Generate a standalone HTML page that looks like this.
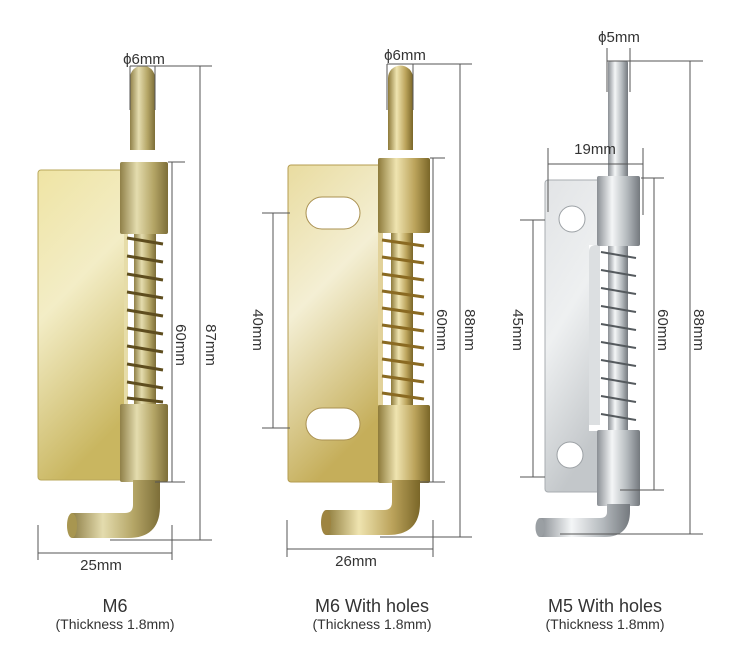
<!DOCTYPE html>
<html><head><meta charset="utf-8"><style>
html,body{margin:0;padding:0;background:#fff;}
svg{display:block;}
text{font-family:"Liberation Sans",sans-serif;fill:#333;}
</style></head><body>
<svg width="750" height="668" viewBox="0 0 750 668" xmlns="http://www.w3.org/2000/svg">
<defs>
<linearGradient id="plate1" x1="0" y1="0" x2="0.3" y2="1">
<stop offset="0" stop-color="#efe4a4"/><stop offset="0.45" stop-color="#f3edc6"/><stop offset="1" stop-color="#c9b660"/></linearGradient>
<linearGradient id="brass1" x1="0" y1="0" x2="1" y2="0">
<stop offset="0" stop-color="#8f8048"/><stop offset="0.35" stop-color="#e4dcae"/><stop offset="0.7" stop-color="#b4a566"/><stop offset="1" stop-color="#7d6e38"/></linearGradient>
<linearGradient id="plate2" x1="0" y1="0" x2="0.3" y2="1">
<stop offset="0" stop-color="#e9dca0"/><stop offset="0.45" stop-color="#f4efd4"/><stop offset="1" stop-color="#c5ae5a"/></linearGradient>
<linearGradient id="brass2" x1="0" y1="0" x2="1" y2="0">
<stop offset="0" stop-color="#8d7a3a"/><stop offset="0.35" stop-color="#efe4b0"/><stop offset="0.7" stop-color="#bca45c"/><stop offset="1" stop-color="#7a6628"/></linearGradient>
<linearGradient id="plate3" x1="0" y1="0" x2="0.3" y2="1">
<stop offset="0" stop-color="#e2e4e6"/><stop offset="0.5" stop-color="#eef0f1"/><stop offset="1" stop-color="#c3c7ca"/></linearGradient>
<linearGradient id="steel" x1="0" y1="0" x2="1" y2="0">
<stop offset="0" stop-color="#8a8f94"/><stop offset="0.35" stop-color="#f4f6f7"/><stop offset="0.7" stop-color="#b4b9bd"/><stop offset="1" stop-color="#74797e"/></linearGradient>
</defs>

<!-- ===== Hinge 1 ===== -->
<rect x="38" y="170" width="90" height="310" rx="3" fill="url(#plate1)" stroke="#b9a75a" stroke-width="1"/>
<rect x="124" y="232" width="44" height="172" fill="#fff"/>
<path d="M124 232 H128 V404 H124Z" fill="#e6dca8"/>
<rect x="134" y="225" width="22" height="185" fill="url(#brass1)"/>
<g stroke="#5e4d1e" stroke-width="3" fill="none">
<path d="M127 238 L163 244 M127 256 L163 262 M127 274 L163 280 M127 292 L163 298 M127 310 L163 316 M127 328 L163 334 M127 346 L163 352 M127 364 L163 370 M127 382 L163 388 M127 398 L163 402"/>
</g>
<path d="M130 150 V78 A12.5 12.5 0 0 1 155 78 V150Z" fill="url(#brass1)"/>
<rect x="120" y="162" width="48" height="72" rx="2" fill="url(#brass1)"/>
<rect x="120" y="404" width="48" height="78" rx="2" fill="url(#brass1)"/>
<path d="M133 480 V505 Q133 513 125 513 H72 V538 H128 Q160 538 160 506 V480Z" fill="url(#brass1)"/>
<ellipse cx="72" cy="525.5" rx="5" ry="12.5" fill="#a89650"/>

<!-- dims 1 -->
<g stroke="#555" stroke-width="1" fill="none">
<line x1="130" y1="66" x2="130" y2="110"/><line x1="155" y1="66" x2="155" y2="110"/>
<line x1="130" y1="66" x2="212" y2="66"/>
<line x1="200" y1="66" x2="200" y2="540"/><line x1="110" y1="540" x2="212" y2="540"/>
<line x1="168" y1="162" x2="185" y2="162"/><line x1="172" y1="162" x2="172" y2="482"/><line x1="155" y1="482" x2="185" y2="482"/>
<line x1="38" y1="525" x2="38" y2="560"/><line x1="172" y1="525" x2="172" y2="560"/><line x1="38" y1="553" x2="172" y2="553"/>
</g>
<text x="144" y="64" font-size="15" text-anchor="middle">ϕ6mm</text>
<text x="101" y="570" font-size="15" text-anchor="middle">25mm</text>
<text transform="translate(176,345) rotate(90)" font-size="15" text-anchor="middle">60mm</text>
<text transform="translate(206,345) rotate(90)" font-size="15" text-anchor="middle">87mm</text>

<!-- ===== Hinge 2 ===== -->
<rect x="288" y="165" width="94" height="317" rx="3" fill="url(#plate2)" stroke="#b49c50" stroke-width="1"/>
<rect x="306" y="197" width="54" height="32" rx="16" fill="#fff" stroke="#a99050"/>
<rect x="306" y="408" width="54" height="32" rx="16" fill="#fff" stroke="#a99050"/>
<rect x="378" y="232" width="52" height="173" fill="#fff"/>
<path d="M378 232 H383 V405 H378Z" fill="#e2d29a"/>
<rect x="391" y="225" width="22" height="185" fill="url(#brass2)"/>
<g stroke="#8a6a22" stroke-width="3" fill="none">
<path d="M382 240 L424 246 M382 257 L424 263 M382 274 L424 280 M382 291 L424 297 M382 308 L424 314 M382 325 L424 331 M382 342 L424 348 M382 359 L424 365 M382 376 L424 382 M382 393 L424 399"/>
</g>
<path d="M388 150 V78 A12.5 12.5 0 0 1 413 78 V150Z" fill="url(#brass2)"/>
<rect x="378" y="158" width="52" height="75" rx="2" fill="url(#brass2)"/>
<rect x="378" y="405" width="52" height="78" rx="2" fill="url(#brass2)"/>
<path d="M392 480 V502 Q392 510 384 510 H326 V535 H388 Q420 535 420 503 V480Z" fill="url(#brass2)"/>
<ellipse cx="326" cy="522.5" rx="5" ry="12.5" fill="#9e8440"/>

<g stroke="#555" stroke-width="1" fill="none">
<line x1="387" y1="64" x2="387" y2="110"/><line x1="413" y1="64" x2="413" y2="110"/>
<line x1="387" y1="64" x2="472" y2="64"/>
<line x1="460" y1="64" x2="460" y2="537"/><line x1="380" y1="537" x2="472" y2="537"/>
<line x1="430" y1="158" x2="445" y2="158"/><line x1="433" y1="158" x2="433" y2="482"/><line x1="420" y1="482" x2="445" y2="482"/>
<line x1="262" y1="213" x2="290" y2="213"/><line x1="273" y1="213" x2="273" y2="428"/><line x1="262" y1="428" x2="290" y2="428"/>
<line x1="287" y1="520" x2="287" y2="557"/><line x1="433" y1="520" x2="433" y2="557"/><line x1="287" y1="549" x2="433" y2="549"/>
</g>
<text x="405" y="60" font-size="15" text-anchor="middle">ϕ6mm</text>
<text x="356" y="566" font-size="15" text-anchor="middle">26mm</text>
<text transform="translate(437,330) rotate(90)" font-size="15" text-anchor="middle">60mm</text>
<text transform="translate(465,330) rotate(90)" font-size="15" text-anchor="middle">88mm</text>
<text transform="translate(253,330) rotate(90)" font-size="15" text-anchor="middle">40mm</text>

<!-- ===== Hinge 3 ===== -->
<rect x="545" y="180" width="57" height="312" rx="3" fill="url(#plate3)" stroke="#a8adb1" stroke-width="1"/>
<circle cx="572" cy="219" r="13" fill="#fff" stroke="#9ca1a5"/>
<circle cx="570" cy="455" r="13" fill="#fff" stroke="#9ca1a5"/>
<rect x="589" y="245" width="52" height="186" fill="#fff"/>
<path d="M589 252 Q589 245 596 245 H600 V425 H589Z" fill="#dcdfe1"/>
<rect x="608" y="240" width="20" height="195" fill="url(#steel)"/>
<g stroke="#555a5e" stroke-width="2" fill="none">
<path d="M601 252 L636 258 M601 270 L636 276 M601 288 L636 294 M601 306 L636 312 M601 324 L636 330 M601 342 L636 348 M601 360 L636 366 M601 378 L636 384 M601 396 L636 402 M601 414 L636 420"/>
</g>
<rect x="608" y="61" width="20" height="120" rx="2" fill="url(#steel)"/>
<rect x="597" y="176" width="43" height="70" rx="2" fill="url(#steel)"/>
<rect x="597" y="430" width="43" height="76" rx="2" fill="url(#steel)"/>
<path d="M607 504 V512 Q607 518 600 518 H540 V537 H604 Q630 537 630 511 V504Z" fill="url(#steel)"/>
<ellipse cx="540" cy="527.5" rx="4.5" ry="9.5" fill="#9a9fa3"/>

<g stroke="#555" stroke-width="1" fill="none">
<line x1="607" y1="48" x2="607" y2="92"/><line x1="630" y1="48" x2="630" y2="92"/>
<line x1="607" y1="61" x2="703" y2="61"/>
<line x1="690" y1="61" x2="690" y2="534"/><line x1="560" y1="534" x2="703" y2="534"/>
<line x1="641" y1="178" x2="664" y2="178"/><line x1="654" y1="178" x2="654" y2="490"/><line x1="620" y1="490" x2="664" y2="490"/>
<line x1="520" y1="220" x2="545" y2="220"/><line x1="533" y1="220" x2="533" y2="477"/><line x1="520" y1="477" x2="545" y2="477"/>
<line x1="548" y1="148" x2="548" y2="212"/><line x1="643" y1="148" x2="643" y2="215"/><line x1="548" y1="164" x2="643" y2="164"/>
</g>
<text x="619" y="42" font-size="15" text-anchor="middle">ϕ5mm</text>
<text x="595" y="154" font-size="15" text-anchor="middle">19mm</text>
<text transform="translate(658,330) rotate(90)" font-size="15" text-anchor="middle">60mm</text>
<text transform="translate(694,330) rotate(90)" font-size="15" text-anchor="middle">88mm</text>
<text transform="translate(513,330) rotate(90)" font-size="15" text-anchor="middle">45mm</text>

<!-- labels -->
<text x="115" y="612" font-size="18" text-anchor="middle" fill="#222">M6</text>
<text x="115" y="629" font-size="14" text-anchor="middle" fill="#222">(Thickness 1.8mm)</text>
<text x="372" y="612" font-size="18" text-anchor="middle" fill="#222">M6 With holes</text>
<text x="372" y="629" font-size="14" text-anchor="middle" fill="#222">(Thickness 1.8mm)</text>
<text x="605" y="612" font-size="18" text-anchor="middle" fill="#222">M5 With holes</text>
<text x="605" y="629" font-size="14" text-anchor="middle" fill="#222">(Thickness 1.8mm)</text>
</svg>
</body></html>
